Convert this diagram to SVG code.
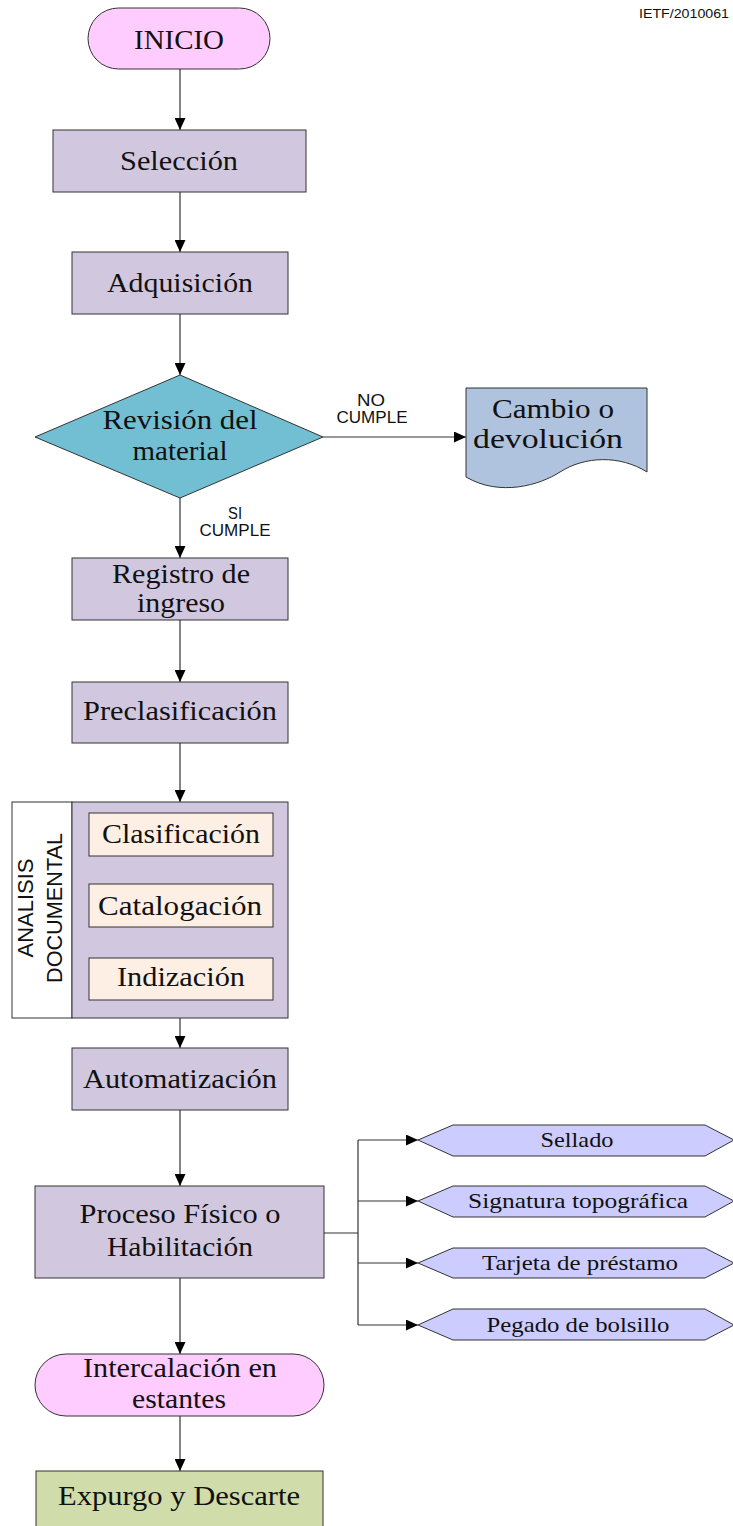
<svg xmlns="http://www.w3.org/2000/svg" width="733" height="1526" viewBox="0 0 733 1526">
<style>
.lbl{font-family:"Liberation Serif","Times New Roman",serif;font-size:28px;fill:#111;}
.sm{font-family:"Liberation Serif","Times New Roman",serif;font-size:21px;fill:#111;}
.ar{font-family:"Liberation Sans",Arial,sans-serif;fill:#111;}
.proc{fill:#D1C8E0;stroke:#333;stroke-width:1;}
.term{fill:#FFCCFF;stroke:#333;stroke-width:1;}
.inner{fill:#FDEFE4;stroke:#333;stroke-width:1;}
.hex{fill:#CCCCFF;stroke:#333;stroke-width:1;}
.con{fill:none;stroke:#333;stroke-width:1.2;}
.arr{fill:none;stroke:#333;stroke-width:1.2;marker-end:url(#ah);}
</style>
<defs>
<marker id="ah" markerUnits="userSpaceOnUse" markerWidth="12" markerHeight="11" refX="12" refY="5.5" orient="auto">
<path d="M0,0 L12,5.5 L0,11 Z" fill="#000"/>
</marker>
</defs>
<rect width="733" height="1526" fill="#fff"/>
<text class="ar" x="639" y="18" font-size="12" textLength="90" lengthAdjust="spacingAndGlyphs">IETF/2010061</text>

<g id="connectors">
<line class="arr" x1="180" y1="69" x2="180" y2="130"/>
<line class="arr" x1="180" y1="192" x2="180" y2="252"/>
<line class="arr" x1="180" y1="314" x2="180" y2="375"/>
<line class="arr" x1="323" y1="437" x2="466" y2="437"/>
<line class="arr" x1="180" y1="498" x2="180" y2="558"/>
<line class="arr" x1="180" y1="620" x2="180" y2="682"/>
<line class="arr" x1="180" y1="743" x2="180" y2="802"/>
<line class="arr" x1="180" y1="1018" x2="180" y2="1048"/>
<line class="arr" x1="180" y1="1110" x2="180" y2="1186"/>
<line class="arr" x1="180" y1="1278" x2="180" y2="1354"/>
<line class="arr" x1="180" y1="1416" x2="180" y2="1471"/>
<line class="con" x1="324" y1="1233" x2="358" y2="1233"/>
<line class="con" x1="358" y1="1140" x2="358" y2="1325"/>
<line class="arr" x1="358" y1="1140" x2="418" y2="1140"/>
<line class="arr" x1="358" y1="1201" x2="418" y2="1201"/>
<line class="arr" x1="358" y1="1263" x2="418" y2="1263"/>
<line class="arr" x1="358" y1="1325" x2="418" y2="1325"/>
<text class="ar" x="371" y="406" font-size="16" text-anchor="middle" textLength="28" lengthAdjust="spacingAndGlyphs">NO</text>
<text class="ar" x="372" y="423" font-size="16" text-anchor="middle" textLength="71" lengthAdjust="spacingAndGlyphs">CUMPLE</text>
<text class="ar" x="235" y="519" font-size="16" text-anchor="middle" textLength="14" lengthAdjust="spacingAndGlyphs">SI</text>
<text class="ar" x="235" y="536" font-size="16" text-anchor="middle" textLength="71" lengthAdjust="spacingAndGlyphs">CUMPLE</text>
</g>

<g id="inicio">
<rect class="term" x="88" y="8" width="182" height="61" rx="30.5" ry="30.5"/>
<text class="lbl" x="179" y="49" text-anchor="middle" textLength="90" lengthAdjust="spacingAndGlyphs">INICIO</text>
</g>
<g id="seleccion">
<rect class="proc" x="53" y="130" width="253" height="62"/>
<text class="lbl" x="179" y="170" text-anchor="middle" textLength="118" lengthAdjust="spacingAndGlyphs">Selección</text>
</g>
<g id="adquisicion">
<rect class="proc" x="72" y="252" width="216" height="62"/>
<text class="lbl" x="180" y="292" text-anchor="middle" textLength="146" lengthAdjust="spacingAndGlyphs">Adquisición</text>
</g>
<g id="revision">
<polygon points="180,375 323,437 180,498 35,437" fill="#72BFD3" stroke="#333" stroke-width="1"/>
<text class="lbl" x="180" y="429" font-size="29" text-anchor="middle" textLength="155" lengthAdjust="spacingAndGlyphs">Revisión del</text>
<text class="lbl" x="180" y="460" font-size="29" text-anchor="middle" textLength="95" lengthAdjust="spacingAndGlyphs">material</text>
</g>
<g id="cambio">
<path d="M466,388 H647 V472 C620,455 585,456 560,472 C540,485 500,497 466,477 Z" fill="#B0C3DE" stroke="#333" stroke-width="1"/>
<text class="lbl" x="553" y="418" font-size="29" text-anchor="middle" textLength="122" lengthAdjust="spacingAndGlyphs">Cambio o</text>
<text class="lbl" x="548" y="448" font-size="29" text-anchor="middle" textLength="150" lengthAdjust="spacingAndGlyphs">devolución</text>
</g>
<g id="registro">
<rect class="proc" x="72" y="558" width="216" height="62"/>
<text class="lbl" x="181" y="583" text-anchor="middle" textLength="138" lengthAdjust="spacingAndGlyphs">Registro de</text>
<text class="lbl" x="181" y="612" text-anchor="middle" textLength="88" lengthAdjust="spacingAndGlyphs">ingreso</text>
</g>
<g id="preclasificacion">
<rect class="proc" x="72" y="682" width="216" height="61"/>
<text class="lbl" x="180" y="720" text-anchor="middle" textLength="194" lengthAdjust="spacingAndGlyphs">Preclasificación</text>
</g>
<g id="analisis">
<rect x="12" y="802" width="60" height="216" fill="#fff" stroke="#333" stroke-width="1"/>
<rect class="proc" x="72" y="802" width="216" height="216"/>
<text class="ar" font-size="22" transform="translate(33,908) rotate(-90)" text-anchor="middle" textLength="99" lengthAdjust="spacingAndGlyphs">ANALISIS</text>
<text class="ar" font-size="22" transform="translate(62,908) rotate(-90)" text-anchor="middle" textLength="150" lengthAdjust="spacingAndGlyphs">DOCUMENTAL</text>
</g>
<g id="clasificacion">
<rect class="inner" x="89" y="813" width="184" height="43"/>
<text class="lbl" x="181" y="843" font-size="27" text-anchor="middle" textLength="158" lengthAdjust="spacingAndGlyphs">Clasificación</text>
</g>
<g id="catalogacion">
<rect class="inner" x="89" y="884" width="184" height="43"/>
<text class="lbl" x="180" y="915" font-size="27" text-anchor="middle" textLength="164" lengthAdjust="spacingAndGlyphs">Catalogación</text>
</g>
<g id="indizacion">
<rect class="inner" x="89" y="958" width="184" height="42"/>
<text class="lbl" x="181" y="986" font-size="27" text-anchor="middle" textLength="128" lengthAdjust="spacingAndGlyphs">Indización</text>
</g>
<g id="automatizacion">
<rect class="proc" x="72" y="1048" width="216" height="62"/>
<text class="lbl" x="180" y="1088" text-anchor="middle" textLength="194" lengthAdjust="spacingAndGlyphs">Automatización</text>
</g>
<g id="proceso">
<rect class="proc" x="35" y="1186" width="289" height="92"/>
<text class="lbl" x="180" y="1223" text-anchor="middle" textLength="201" lengthAdjust="spacingAndGlyphs">Proceso Físico o</text>
<text class="lbl" x="180" y="1256" text-anchor="middle" textLength="146" lengthAdjust="spacingAndGlyphs">Habilitación</text>
</g>
<g id="sellado">
<polygon class="hex" points="418,1140 453,1125 705,1125 734,1140 705,1156 453,1156"/>
<text class="sm" x="577" y="1147" text-anchor="middle" textLength="73" lengthAdjust="spacingAndGlyphs">Sellado</text>
</g>
<g id="signatura">
<polygon class="hex" points="418,1201 453,1186 705,1186 734,1201 705,1217 453,1217"/>
<text class="sm" x="578" y="1208" text-anchor="middle" textLength="220" lengthAdjust="spacingAndGlyphs">Signatura topográfica</text>
</g>
<g id="tarjeta">
<polygon class="hex" points="418,1263 453,1248 705,1248 734,1263 705,1278 453,1278"/>
<text class="sm" x="580" y="1270" text-anchor="middle" textLength="196" lengthAdjust="spacingAndGlyphs">Tarjeta de préstamo</text>
</g>
<g id="pegado">
<polygon class="hex" points="418,1325 453,1309 705,1309 734,1325 705,1340 453,1340"/>
<text class="sm" x="578" y="1332" text-anchor="middle" textLength="183" lengthAdjust="spacingAndGlyphs">Pegado de bolsillo</text>
</g>
<g id="intercalacion">
<rect class="term" x="35" y="1354" width="289" height="62" rx="31" ry="31"/>
<text class="lbl" x="180" y="1377" text-anchor="middle" textLength="194" lengthAdjust="spacingAndGlyphs">Intercalación en</text>
<text class="lbl" x="179" y="1408" text-anchor="middle" textLength="94" lengthAdjust="spacingAndGlyphs">estantes</text>
</g>
<g id="expurgo">
<rect x="36" y="1471" width="287" height="62" fill="#D0DCA9" stroke="#333" stroke-width="1"/>
<text class="lbl" x="179" y="1505" text-anchor="middle" textLength="242" lengthAdjust="spacingAndGlyphs">Expurgo y Descarte</text>
</g>
</svg>
